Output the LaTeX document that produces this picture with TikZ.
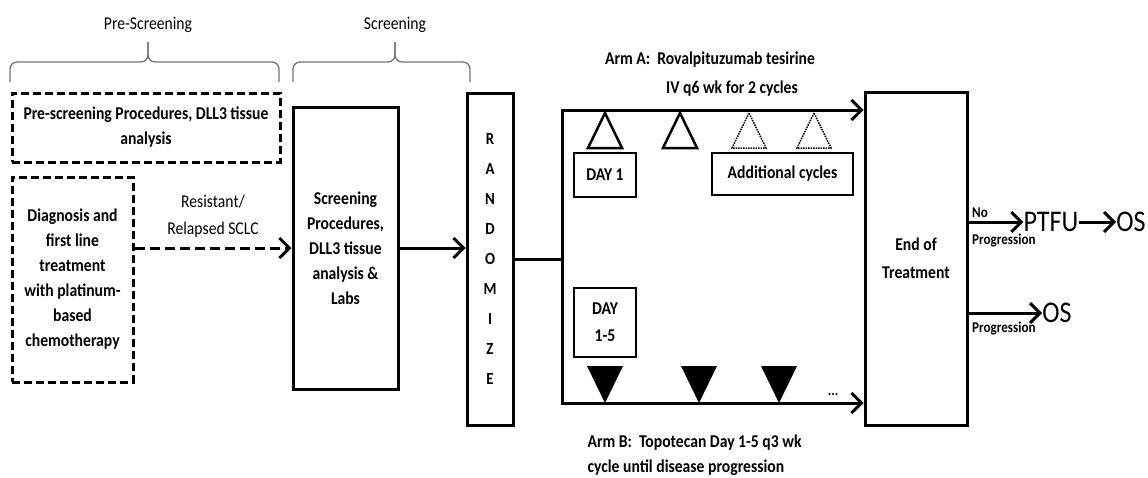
\documentclass[tikz,border=0pt]{standalone}
\usepackage{fontspec}
\setmainfont[FakeStretch=0.87]{Carlito}
\usetikzlibrary{arrows,arrows.meta}

\tikzset{
  >={Straight Barb[length=10pt,width=20pt]},
  box/.style={draw, line width=3pt, inner sep=0pt, align=center},
  dbox/.style={box, dash pattern=on 8pt off 4pt},
  daybox/.style={draw, line width=1.5pt, inner sep=0pt, align=center},
  flow/.style={line width=3pt, ->},
  smalllab/.style={font=\fontsize{15}{15}\selectfont\bfseries, inner sep=1pt},
  biglab/.style={font=\fontsize{30}{30}\selectfont, inner sep=0pt},
}

\begin{document}
\begin{tikzpicture}[x=1pt,y=-1pt,font=\fontsize{18}{25}\selectfont\bfseries]
		\useasboundingbox (0,0) rectangle (1148,477);
		%phase labels and brackets
		\node[font=\fontsize{18}{20}\selectfont] (prelab) at (148,25) {Pre-Screening};
		\node[font=\fontsize{18}{20}\selectfont] (scrlab) at (395,25) {Screening};
		\draw[black!55,line width=1.3pt,rounded corners=7pt] (10,82) |- (148,62) -- (148,42);
		\draw[black!55,line width=1.3pt,rounded corners=7pt] (279,82) |- (148,62) -- (148,42);
		\draw[black!55,line width=1.3pt,rounded corners=7pt] (293,82) |- (395,62) -- (395,42);
		\draw[black!55,line width=1.3pt,rounded corners=7pt] (470,82) |- (395,62) -- (395,42);
		%pre-screening boxes
		\node[dbox,minimum width=268pt,minimum height=69pt] (prebox) at (146,127.5) {Pre-screening Procedures, DLL3 tissue\\analysis};
		\node[dbox,minimum width=121pt,minimum height=205pt] (diagbox) at (72.5,279.5) {Diagnosis and\\first line\\treatment\\with platinum-\\based\\chemotherapy};
		%screening and randomisation
		\node[box,minimum width=105pt,minimum height=282pt] (scrbox) at (345.5,248) {Screening\\Procedures,\\DLL3 tissue\\analysis \&\\Labs};
		\node[box,minimum width=46pt,minimum height=332pt,font=\fontsize{17}{30}\selectfont\bfseries] (randbox) at (490,259) {R\\A\\N\\D\\O\\M\\I\\Z\\E};
		\node[box,minimum width=102pt,minimum height=333pt,font=\fontsize{18}{28}\selectfont\bfseries] (eotbox) at (916,258.5) {End of\\Treatment};
		\node[font=\fontsize{18}{27}\selectfont,align=center] (resist) at (213,216) {Resistant/\\Relapsed SCLC};
		\draw[flow,dash pattern=on 10pt off 5pt] (diagbox.east |- scrbox.west) -- (scrbox.west);
		\draw[flow] (scrbox.east) -- (randbox.west |- scrbox.east);
		%treatment arms
		\coordinate (split) at (562,259);
		\coordinate (topA) at (562,110);
		\coordinate (botB) at (562,403);
		\draw[line width=3pt] (randbox.east |- split) -- (split);
		\draw[line width=3pt,<->] (eotbox.west |- topA) -- (topA) -- (botB) -- (eotbox.west |- botB);
		\node (armA) at (710,60) {Arm A:\ \ Rovalpituzumab tesirine};
		\node (armAb) at (732,89) {IV q6 wk for 2 cycles};
		\node[anchor=west,align=left] (armB) at (584,455) {Arm B:\ \ Topotecan Day 1-5 q3 wk\\cycle until disease progression};
		\node[daybox,minimum width=62pt,minimum height=44pt] (day1) at (605,175) {DAY 1};
		\node[daybox,minimum width=141pt,minimum height=42pt] (addcyc) at (782.5,174) {Additional cycles};
		\node[daybox,minimum width=62pt,minimum height=69pt,font=\fontsize{18}{27}\selectfont\bfseries] (day15) at (605,322.5) {DAY\\1-5};
		%doses arm A
		\foreach \xx in {605,680}{
			\draw[line width=2.5pt,line join=miter] (\xx,113) -- (\xx-17,148) -- (\xx+17,148) -- cycle;
		}
		\foreach \xx in {749,814}{
			\draw[line width=1.5pt,densely dotted] (\xx,113) -- (\xx-17,148) -- (\xx+17,148) -- cycle;
		}
		%doses arm B
		\foreach \xx in {605,699,779}{
			\fill (\xx,403) -- (\xx-18,366) -- (\xx+18,366) -- cycle;
		}
		\node[smalllab] (more) at (833,394) {...};
		%follow-up
		\node[biglab] (ptfu) at (1051,222) {PTFU};
		\node[biglab] (osa) at (1131,222) {OS};
		\node[biglab] (osb) at (1057,313) {OS};
		\draw[flow] (eotbox.east |- ptfu) -- (ptfu.west);
		\draw[flow] (ptfu.east) -- (osa.west);
		\draw[flow] (eotbox.east |- osb) -- (osb.west);
		\node[smalllab,anchor=south west] (nolab) at (971,219) {No};
		\node[smalllab,anchor=north west] (proga) at (971,233) {Progression};
		\node[smalllab,anchor=north west] (progb) at (971,321) {Progression};
\end{tikzpicture}
\end{document}
